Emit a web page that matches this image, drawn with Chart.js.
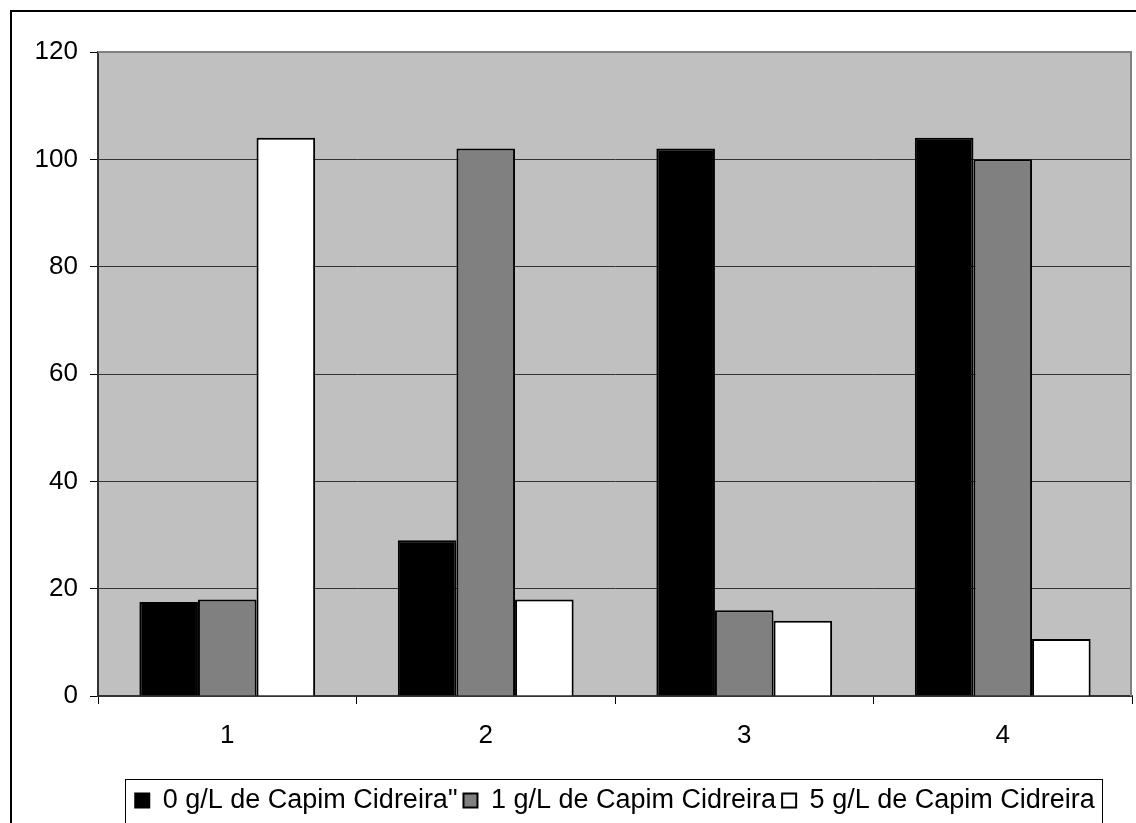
<!DOCTYPE html>
<html>
<head>
<meta charset="utf-8">
<script src="https://cdn.jsdelivr.net/npm/chart.js@4/dist/chart.umd.min.js"></script>
<style>
  html, body { margin: 0; padding: 0; background: #fff; overflow: hidden; }
  #wrap { position: relative; width: 1136px; height: 824px; }
</style>
</head>
<body>
<div id="wrap"><canvas id="capimChart"></canvas></div>
<script>
// values
const categories = ['1', '2', '3', '4'];
const dose0 = [17.5, 29, 102, 104];
const dose1 = [18, 102, 16, 100];
const dose5 = [104, 18, 14, 10.6];
const seriesNames = ['0 g/L de Capim Cidreira"', '1 g/L de Capim Cidreira', '5 g/L de Capim Cidreira'];
const yTicks = [0, 20, 40, 60, 80, 100, 120];

(function() {
    const ctx = document.getElementById('capimChart');
    if (!ctx) return;

    Chart.defaults.font.family = '"Liberation Sans", Arial, sans-serif';
    Chart.defaults.color = '#000';

    // gray plot area, outer frame, legend frame
    const excelLook = {
        id: 'excelLook',
        beforeDraw(chart) {
            const c = chart.ctx, a = chart.chartArea;
            c.save();
            c.fillStyle = '#fff';
            c.fillRect(0, 0, chart.width, chart.height);
            c.fillStyle = '#c0c0c0';
            c.fillRect(a.left, a.top, a.right - a.left, a.bottom - a.top);
            c.restore();
        },
        afterDraw(chart) {
            const c = chart.ctx, a = chart.chartArea;
            c.save();
            // top and right edge of plot area
            c.strokeStyle = '#808080';
            c.lineWidth = 2;
            c.beginPath();
            c.moveTo(a.left, a.top);
            c.lineTo(a.right - 1, a.top);
            c.lineTo(a.right - 1, a.bottom);
            c.stroke();
            // outer chart frame
            c.strokeStyle = '#000';
            c.lineWidth = 2;
            c.strokeRect(11, 11, 1400, 1200);
            // legend frame
            const lg = chart.legend;
            if (lg && lg.legendHitBoxes && lg.legendHitBoxes.length) {
                const hb = lg.legendHitBoxes;
                const l = Math.min(...hb.map(h => h.left)) - 10;
                const r = Math.max(...hb.map(h => h.left + h.width)) + 8;
                c.lineWidth = 1;
                c.strokeRect(Math.round(l) + 0.5, 779.5, Math.round(r - l), 60);
            }
            c.restore();
        }
    };

    new Chart(ctx, {
        type: 'bar',
        data: {
            labels: categories,
            datasets: [{
                label: seriesNames[0],
                data: dose0,
                backgroundColor: '#000',
                borderColor: '#000',
                borderWidth: 2
            }, {
                label: seriesNames[1],
                data: dose1,
                backgroundColor: '#808080',
                borderColor: '#000',
                borderWidth: 2
            }, {
                label: seriesNames[2],
                data: dose5,
                backgroundColor: '#fff',
                borderColor: '#000',
                borderWidth: 2
            }]
        },
        options: {
            responsive: true,
            maintainAspectRatio: false,
            animation: false,
            categoryPercentage: 0.68,
            barPercentage: 1,
            layout: { padding: { left: 20, right: 4, top: 52, bottom: 0 } },
            scales: {
                x: {
                    grid: { offset: true, drawOnChartArea: false, drawTicks: true, tickLength: 8, color: '#000' },
                    border: { color: '#333', width: 2 },
                    ticks: { font: { size: 26 }, padding: 16 },
                    afterFit(scale) { scale.height = 85; }
                },
                y: {
                    min: 0,
                    max: 120,
                    afterBuildTicks(scale) { scale.ticks = yTicks.map(v => ({ value: v })); },
                    grid: {
                        color: c => (c.tick && c.tick.value === 120) ? 'rgba(0,0,0,0)' : '#333',
                        tickColor: '#000',
                        tickLength: 8,
                        lineWidth: 1
                    },
                    border: { color: '#333', width: 2 },
                    ticks: { font: { size: 26 }, padding: 12 },
                    afterFit(scale) { scale.width = 78; }
                }
            },
            plugins: {
                legend: {
                    position: 'bottom',
                    fullSize: false,
                    labels: {
                        boxWidth: 14,
                        boxHeight: 14,
                        padding: 6,
                        font: { size: 27 },
                        color: '#000'
                    }
                },
                tooltip: { enabled: false }
            }
        },
        plugins: [excelLook]
    });
})();
</script>
</body>
</html>
